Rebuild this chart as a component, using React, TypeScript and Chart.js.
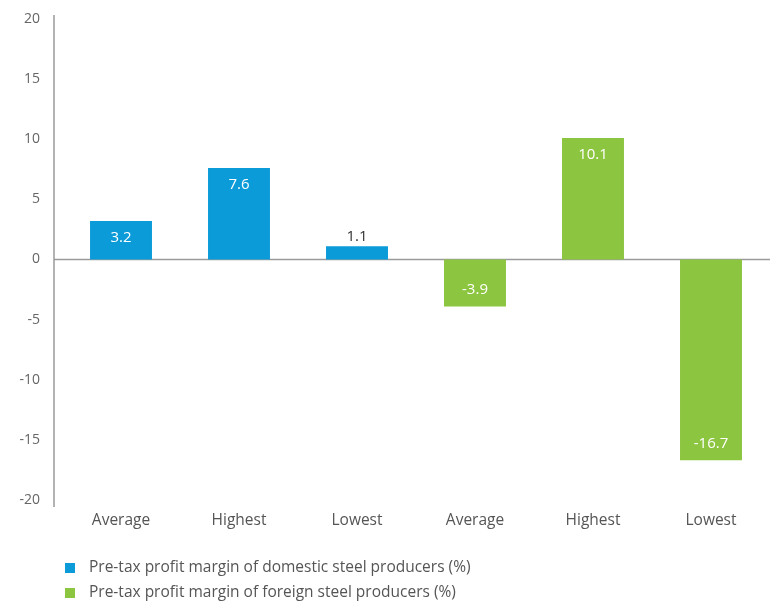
import React, { useEffect, useRef } from "react";
import { Chart, registerables } from "chart.js";

Chart.register(...registerables);

const categories = ["Average", "Highest", "Lowest", "Average", "Highest", "Lowest"];
const domesticValues = [3.2, 7.6, 1.1, null, null, null];
const foreignValues = [null, null, null, -3.9, 10.1, -16.7];
const domesticLabel = "Pre-tax profit margin of domestic steel producers (%)";
const foreignLabel = "Pre-tax profit margin of foreign steel producers (%)";
const yMin = -20;
const yMax = 20;
const yStep = 5;

const BLUE = "#0B9BD9";
const GREEN = "#8CC540";
const FONT = "'Open Sans', 'Noto Sans', sans-serif";

const customPlugin = {
  id: "customDraw",
  beforeDatasetsDraw(chart: any) {
    const { ctx, chartArea, scales } = chart;
    const y0 = scales.y.getPixelForValue(0);
    ctx.save();
    ctx.strokeStyle = "#9a9a9a";
    ctx.lineWidth = 1.5;
    ctx.beginPath();
    ctx.moveTo(54, y0);
    ctx.lineTo(chart.width, y0);
    ctx.stroke();
    ctx.beginPath();
    ctx.moveTo(54, chartArea.top - 4);
    ctx.lineTo(54, chartArea.bottom + 7);
    ctx.stroke();
    ctx.restore();
  },
  afterDatasetsDraw(chart: any) {
    const { ctx } = chart;
    ctx.save();
    ctx.font = `15px ${FONT}`;
    ctx.textAlign = "center";
    ctx.textBaseline = "middle";
    chart.data.datasets.forEach((ds: any, di: number) => {
      const meta = chart.getDatasetMeta(di);
      meta.data.forEach((bar: any, i: number) => {
        const v = ds.data[i];
        if (v === null || v === undefined) return;
        const h = Math.abs(bar.base - bar.y);
        const up = v >= 0;
        const text = v.toFixed(1);
        if (h < 25) {
          ctx.fillStyle = "#333333";
          ctx.fillText(text, bar.x, up ? bar.y - 10 : bar.y + 10);
        } else {
          ctx.fillStyle = "#ffffff";
          const off = Math.min(17, h / 2);
          ctx.fillText(text, bar.x, up ? bar.y + off : bar.y - off);
        }
      });
    });
    ctx.restore();
  },
  afterDraw(chart: any) {
    const { ctx } = chart;
    ctx.save();
    ctx.font = `15.5px ${FONT}`;
    ctx.textAlign = "left";
    ctx.textBaseline = "middle";
    const rows = [
      { label: domesticLabel, color: BLUE, y: 568 },
      { label: foreignLabel, color: GREEN, y: 593 },
    ];
    rows.forEach((r) => {
      ctx.fillStyle = r.color;
      ctx.fillRect(65, r.y - 5, 10, 10);
      ctx.fillStyle = "#555555";
      ctx.fillText(r.label, 89, r.y);
    });
    ctx.restore();
  },
};

export default function App() {
  const ref = useRef<HTMLCanvasElement | null>(null);
  useEffect(() => {
    if (!ref.current) return;
    const chart = new Chart(ref.current, {
      type: "bar",
      data: {
        labels: categories,
        datasets: [
          {
            label: domesticLabel,
            data: domesticValues as any,
            backgroundColor: BLUE,
            grouped: false,
            barPercentage: 0.7,
            categoryPercentage: 0.75,
          },
          {
            label: foreignLabel,
            data: foreignValues as any,
            backgroundColor: GREEN,
            grouped: false,
            barPercentage: 0.7,
            categoryPercentage: 0.75,
          },
        ],
      },
      options: {
        responsive: false,
        animation: false,
        layout: { padding: { top: 19, bottom: 74, left: 0, right: 0 } },
        plugins: {
          legend: { display: false },
          tooltip: { enabled: false },
        },
        scales: {
          x: {
            grid: { display: false, drawTicks: false },
            border: { display: false },
            ticks: {
              color: "#555555",
              font: { family: FONT, size: 15.5 },
              padding: 11,
              maxRotation: 0,
            },
            afterFit: (scale: any) => {
              scale.height = 30;
            },
          },
          y: {
            min: yMin,
            max: yMax,
            grid: { display: false, drawTicks: false },
            border: { display: false },
            ticks: {
              stepSize: yStep,
              color: "#666666",
              font: { family: FONT, size: 14 },
              padding: 22,
            },
            afterFit: (scale: any) => {
              scale.width = 62;
              scale.paddingTop = 0;
              scale.paddingBottom = 0;
            },
          },
        },
      },
      plugins: [customPlugin],
    });
    return () => chart.destroy();
  }, []);
  return (
    <div style={{ position: "absolute", left: 0, top: 0, width: 770, height: 604, background: "#fff" }}>
      <canvas ref={ref} width={770} height={604} style={{ display: "block" }} />
    </div>
  );
}
